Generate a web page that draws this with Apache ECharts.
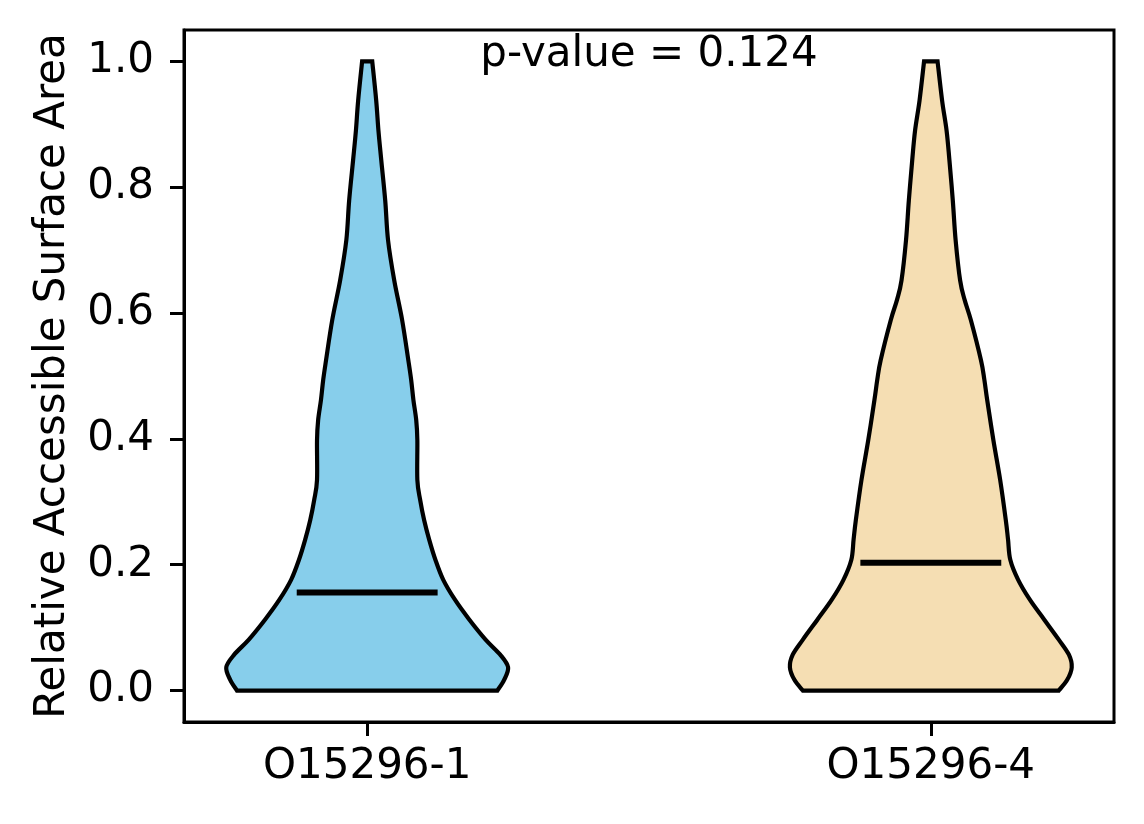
<!DOCTYPE html>
<html>
<head>
<meta charset="utf-8">
<script src="https://cdn.jsdelivr.net/npm/echarts@6/dist/echarts.min.js"></script>
<style>html,body{margin:0;padding:0;background:#fff}#c{width:1144px;height:824px}</style>
</head>
<body>
<div id="c"></div>
<script>
// ---- data ----
const categories = ['O15296-1', 'O15296-4'];
const positions = [1, 2];
const colors = ['#87CEEB', '#F5DEB3'];
const yTicks = [0.0, 0.2, 0.4, 0.6, 0.8, 1.0];
const pValueText = 'p-value = 0.124';

// violin 1 profile: y levels and half-widths (in x-axis units)
const levels1 =     [0.000, 0.017, 0.037, 0.057, 0.081, 0.113, 0.144, 0.176, 0.208, 0.240, 0.271, 0.303, 0.335, 0.398, 0.430, 0.462, 0.494, 0.525, 0.589, 0.652, 0.716, 0.779, 0.843, 0.890, 0.938, 1.000];
const halfWidths1 = [0.231, 0.243, 0.250, 0.236, 0.210, 0.181, 0.156, 0.135, 0.121, 0.110, 0.101, 0.094, 0.089, 0.089, 0.087, 0.082, 0.078, 0.073, 0.062, 0.048, 0.037, 0.032, 0.025, 0.020, 0.016, 0.009];
const median1 = 0.156;

// violin 2 profile
const levels2 =     [0.000, 0.017, 0.037, 0.057, 0.081, 0.113, 0.144, 0.176, 0.208, 0.240, 0.271, 0.335, 0.398, 0.462, 0.494, 0.525, 0.589, 0.621, 0.652, 0.716, 0.779, 0.843, 0.890, 0.938, 1.000];
const halfWidths2 = [0.227, 0.242, 0.250, 0.245, 0.227, 0.201, 0.176, 0.155, 0.141, 0.137, 0.133, 0.123, 0.111, 0.100, 0.095, 0.089, 0.071, 0.060, 0.052, 0.044, 0.039, 0.033, 0.028, 0.020, 0.012];
const median2 = 0.203;

const violins = [
  {levels: levels1, halfWidths: halfWidths1, median: median1},
  {levels: levels2, halfWidths: halfWidths2, median: median2}
];
const medianHalfWidth = 0.125;

const chart = echarts.init(document.getElementById('c'), null, {renderer: 'canvas'});
const FONT = 'DejaVu Sans';

// smooth curve path through pixel points (Catmull-Rom -> cubic Bezier)
function curveThrough(p) {
  let d = '';
  const n = p.length;
  for (let i = 0; i < n - 1; i++) {
    const p0 = p[Math.max(i - 1, 0)], p1 = p[i], p2 = p[i + 1], p3 = p[Math.min(i + 2, n - 1)];
    const c1x = p1[0] + (p2[0] - p0[0]) / 6, c1y = p1[1] + (p2[1] - p0[1]) / 6;
    const c2x = p2[0] - (p3[0] - p1[0]) / 6, c2y = p2[1] - (p3[1] - p1[1]) / 6;
    d += ' C' + c1x.toFixed(2) + ' ' + c1y.toFixed(2) + ' ' + c2x.toFixed(2) + ' ' + c2y.toFixed(2) + ' ' + p2[0].toFixed(2) + ' ' + p2[1].toFixed(2);
  }
  return d;
}

function renderViolin(params, api) {
  const idx = api.value(0);
  const v = violins[idx];
  const pos = positions[idx];
  const right = [], left = [];
  for (let i = 0; i < v.levels.length; i++) {
    right.push(api.coord([pos + v.halfWidths[i], v.levels[i]]));
    left.push(api.coord([pos - v.halfWidths[i], v.levels[i]]));
  }
  left.reverse();
  let d = 'M' + right[0][0].toFixed(2) + ' ' + right[0][1].toFixed(2) + curveThrough(right);
  d += ' L' + left[0][0].toFixed(2) + ' ' + left[0][1].toFixed(2) + curveThrough(left) + ' Z';
  const m0 = api.coord([pos - medianHalfWidth, v.median]);
  const m1 = api.coord([pos + medianHalfWidth, v.median]);
  return {
    type: 'group',
    children: [
      {type: 'path', shape: {pathData: d}, style: {fill: colors[idx], stroke: '#000', lineWidth: 4.2, lineJoin: 'miter'}},
      {type: 'line', shape: {x1: m0[0], y1: m0[1], x2: m1[0], y2: m1[1]}, style: {stroke: '#000', lineWidth: 6}}
    ]
  };
}

function renderText(params, api) {
  const p = api.coord([1.5, 1.0]);
  return {
    type: 'text',
    x: p[0], y: p[1] - 6,
    style: {text: pValueText, font: '42px "DejaVu Sans"', fill: '#000', align: 'center', verticalAlign: 'middle'}
  };
}

chart.setOption({
  animation: false,
  backgroundColor: '#fff',
  grid: {left: 184, right: 30, top: 30, bottom: 102, show: true, borderColor: '#000', borderWidth: 3, backgroundColor: 'transparent'},
  xAxis: {
    type: 'value', min: 0.675, max: 2.325,
    axisLine: {show: true, onZero: false, lineStyle: {color: '#000', width: 3}},
    axisTick: {show: true, length: 14, lineStyle: {color: '#000', width: 3}, customValues: positions},
    axisLabel: {customValues: positions, margin: 24, fontFamily: FONT, fontSize: 42, color: '#000',
      formatter: function (v) { const i = positions.indexOf(v); return i >= 0 ? categories[i] : ''; }},
    splitLine: {show: false}
  },
  yAxis: {
    type: 'value', min: -0.05, max: 1.05,
    name: 'Relative Accessible Surface Area', nameLocation: 'middle', nameGap: 110,
    nameTextStyle: {fontFamily: FONT, fontSize: 42, color: '#000'},
    axisLine: {show: true, onZero: false, lineStyle: {color: '#000', width: 3}},
    axisTick: {show: true, length: 14, lineStyle: {color: '#000', width: 3}, customValues: yTicks},
    axisLabel: {customValues: yTicks, margin: 30, fontFamily: FONT, fontSize: 42, color: '#000',
      formatter: function (v) { return v.toFixed(1); }},
    splitLine: {show: false}
  },
  series: [
    {type: 'custom', renderItem: renderViolin, data: [[0], [1]], clip: false},
    {type: 'custom', renderItem: renderText, data: [[0]], clip: false}
  ]
});
</script>
</body>
</html>
